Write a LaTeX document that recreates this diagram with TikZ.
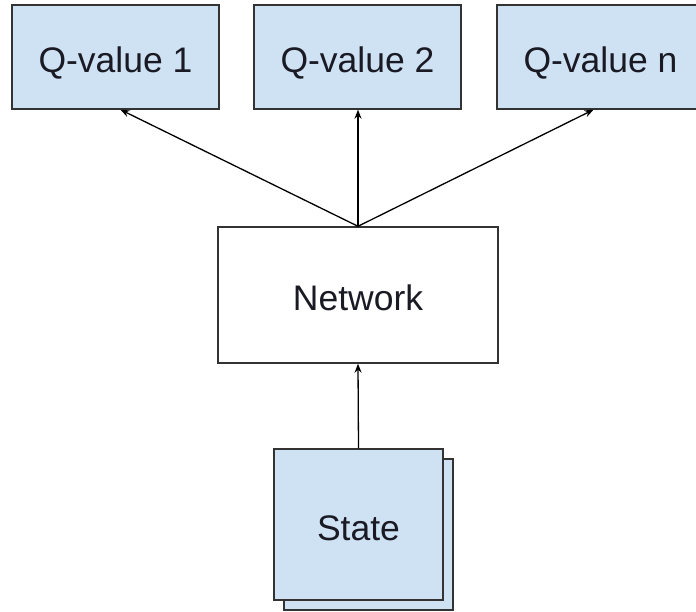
\documentclass[tikz,border=0pt]{standalone}
\usepackage{fontspec}
\setmainfont{Liberation Sans}
\usetikzlibrary{arrows.meta}
\definecolor{boxblue}{HTML}{CFE2F3}
\definecolor{edge}{HTML}{333333}
\definecolor{ink}{HTML}{1A1A24}
\begin{document}
\begin{tikzpicture}[x=1pt,y=1pt,
  label text/.style={inner sep=0pt,text=ink,font=\fontsize{35.5}{40}\selectfont,
    text height=31pt,text depth=0pt},
  qbox/.style={label text,draw=edge,line width=1.4pt,fill=boxblue,minimum width=207pt,minimum height=104pt},
  netbox/.style={label text,draw=edge,line width=1.4pt,fill=white,minimum width=280pt,minimum height=136pt},
  statebox/.style={label text,draw=edge,line width=1.4pt,fill=boxblue,minimum width=169pt,minimum height=151pt},
  link/.style={draw=black,line width=1.3pt,-{Stealth[length=9pt,width=7pt]}}]
  \useasboundingbox (0,0) rectangle (696,-612);
  \clip (0,0) rectangle (696,-612);

  % output layer
  \node[qbox] (q1) at (115.5,-57) {Q-value 1};
  \node[qbox] (q2) at (357.5,-57) {Q-value 2};
  \node[qbox] (qn) at (600.5,-57) {Q-value n};

  % network
  \node[netbox] (net) at (358,-295) {Network};

  % stacked state input
  \node[statebox] (stateback) at (368.5,-534.5) {};
  \node[statebox] (state) at (358.5,-524.5) {State};

  % connectors
  \draw[link] (state.north) -- (net.south);
  \draw[link] (net.north) -- ([xshift=5pt]q1.south);
  \draw[link] (net.north) -- (q2.south -| net.north);
  \draw[link] (net.north) -- ([xshift=-7pt]qn.south);
\end{tikzpicture}
\end{document}
